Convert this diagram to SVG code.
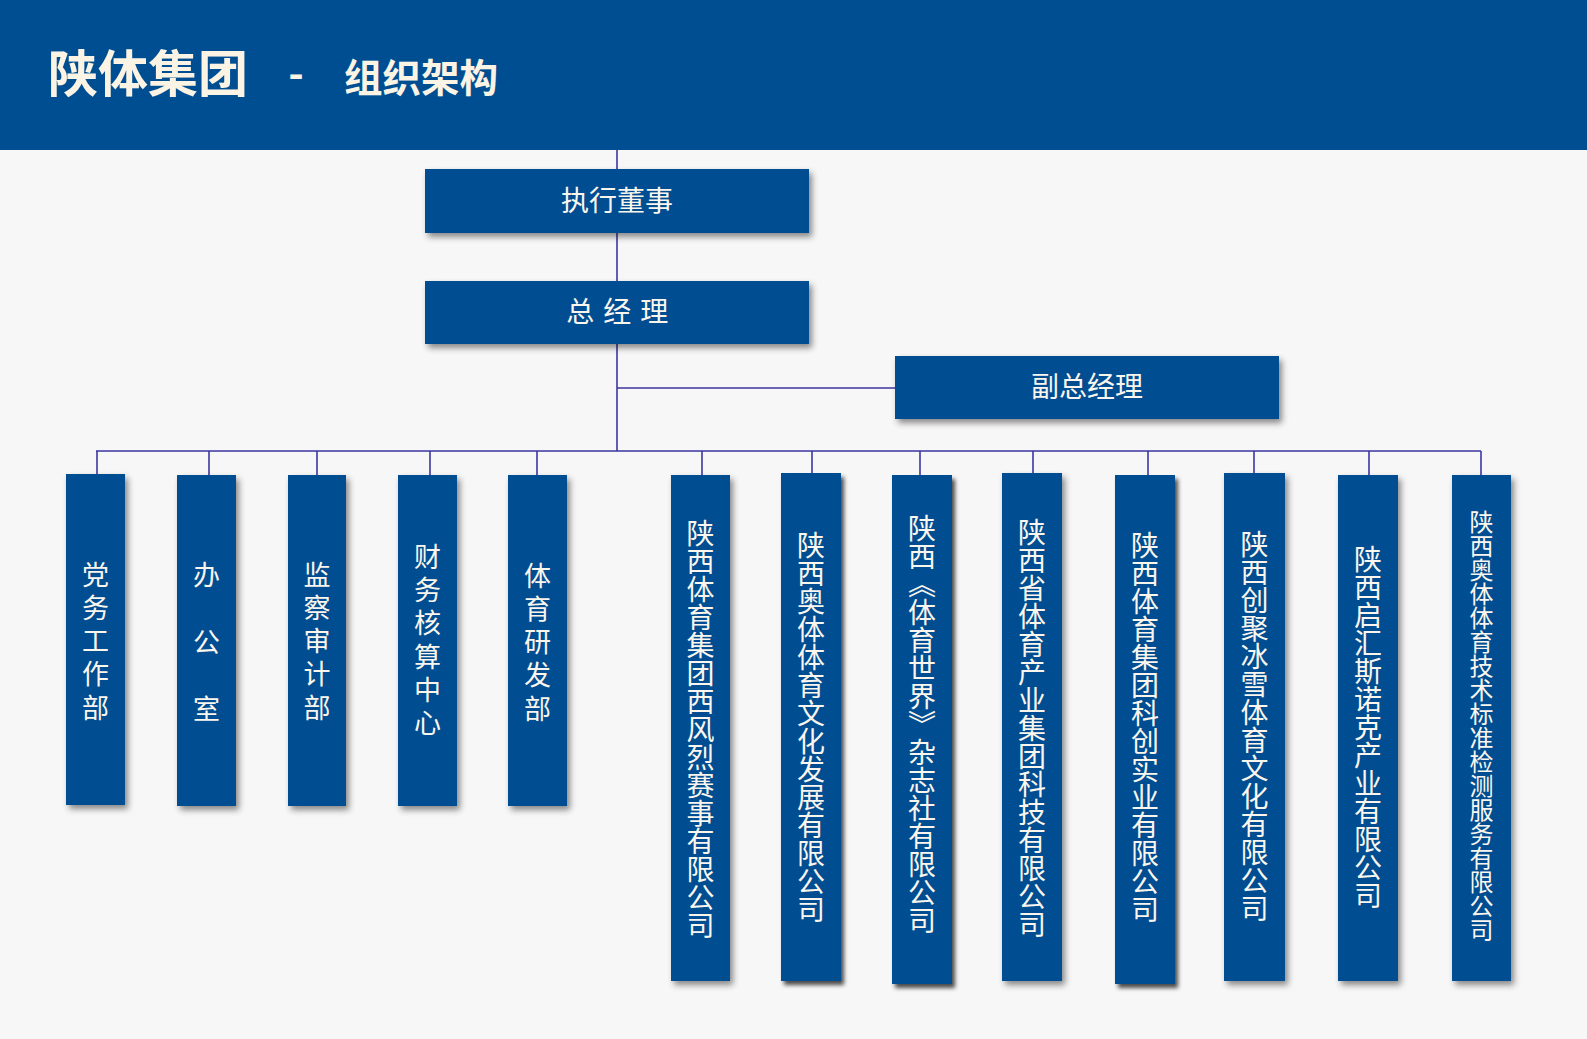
<svg xmlns="http://www.w3.org/2000/svg" width="1587" height="1039" viewBox="0 0 1587 1039">
<defs>
<filter id="sh" x="-30%" y="-10%" width="160%" height="130%">
<feDropShadow dx="3" dy="4" stdDeviation="3" flood-color="#000" flood-opacity="0.45"/>
</filter>
<filter id="sh2" x="-30%" y="-10%" width="160%" height="130%">
<feDropShadow dx="3" dy="4" stdDeviation="2" flood-color="#000" flood-opacity="0.7"/>
</filter>
</defs>
<style>
.bg{fill:#F7F7F7}
.hdr{fill:#004E92}
.box{fill:#014E91;filter:url(#sh)}
.box2{fill:#014E91;filter:url(#sh2)}
.ln{stroke:#3B369F;stroke-width:1.6;fill:none}
.t{font-family:"Noto Sans CJK SC","Noto Sans",sans-serif;fill:#FAF6EE}
.h{font-size:28px;text-anchor:middle}
.title{font-weight:bold;fill:#FBF3E3}
.vt{writing-mode:vertical-rl;text-anchor:middle;font-size:28px}
.vd{writing-mode:vertical-rl;text-anchor:middle;font-size:27px;letter-spacing:6.3px}
</style>
<rect class="bg" x="0" y="0" width="1587" height="1039"/>
<g id="header">
<rect class="hdr" x="0" y="0" width="1587" height="150"/>
<text class="t title" x="48" y="92" style="font-size:50px">陕体集团</text>
<text class="t title" x="296" y="89" style="font-size:42px" text-anchor="middle">-</text>
<text class="t title" x="344" y="92" style="font-size:38.5px">组织架构</text>
</g>
<g id="connectors">
<line class="ln" x1="617" y1="150" x2="617" y2="451"/>
<line class="ln" x1="617" y1="388" x2="895" y2="388"/>
<line class="ln" x1="96" y1="451" x2="1481" y2="451"/>
<line class="ln" x1="97" y1="451" x2="97" y2="474"/>
<line class="ln" x1="209" y1="451" x2="209" y2="475"/>
<line class="ln" x1="317" y1="451" x2="317" y2="475"/>
<line class="ln" x1="430" y1="451" x2="430" y2="475"/>
<line class="ln" x1="537" y1="451" x2="537" y2="475"/>
<line class="ln" x1="702" y1="451" x2="702" y2="475"/>
<line class="ln" x1="812" y1="451" x2="812" y2="473"/>
<line class="ln" x1="920" y1="451" x2="920" y2="475"/>
<line class="ln" x1="1033" y1="451" x2="1033" y2="473"/>
<line class="ln" x1="1148" y1="451" x2="1148" y2="475"/>
<line class="ln" x1="1254" y1="451" x2="1254" y2="473"/>
<line class="ln" x1="1369" y1="451" x2="1369" y2="475"/>
<line class="ln" x1="1481" y1="451" x2="1481" y2="475"/>
</g>
<g id="n-dongshi">
<rect class="box" x="425" y="169" width="384" height="64"/>
<text class="t h" x="617" y="211">执行董事</text>
</g>
<g id="n-zongjingli">
<rect class="box" x="425" y="281" width="384" height="63"/>
<text class="t h" x="618" y="322" letter-spacing="1.4">总 经 理</text>
</g>
<g id="n-fuzong">
<rect class="box" x="895" y="356" width="384" height="63"/>
<text class="t h" x="1087" y="397">副总经理</text>
</g>
<g id="d1">
<rect class="box" x="66" y="474" width="59" height="331"/>
<text class="t vd" x="95.5" y="644">党务工作部</text>
</g>
<g id="d2">
<rect class="box" x="177" y="475" width="59" height="331"/>
<text class="t vd" x="206.5" y="662" style="letter-spacing:40px">办公室</text>
</g>
<g id="d3">
<rect class="box" x="288" y="475" width="58" height="331"/>
<text class="t vd" x="317" y="644">监察审计部</text>
</g>
<g id="d4">
<rect class="box" x="398" y="475" width="59" height="331"/>
<text class="t vd" x="427.5" y="643">财务核算中心</text>
</g>
<g id="d5">
<rect class="box" x="508" y="475" width="59" height="331"/>
<text class="t vd" x="537.5" y="645">体育研发部</text>
</g>
<g id="c1">
<rect class="box" x="671" y="475" width="59" height="506"/>
<text class="t vt" x="700.5" y="729">陕西体育集团西风烈赛事有限公司</text>
</g>
<g id="c2">
<rect class="box2" x="781" y="473" width="60" height="508"/>
<text class="t vt" x="811" y="727">陕西奥体体育文化发展有限公司</text>
</g>
<g id="c3">
<rect class="box2" x="892" y="475" width="60" height="509"/>
<text class="t vt" x="922" y="724">陕西《体育世界》杂志社有限公司</text>
</g>
<g id="c4">
<rect class="box" x="1002" y="473" width="60" height="508"/>
<text class="t vt" x="1032" y="728">陕西省体育产业集团科技有限公司</text>
</g>
<g id="c5">
<rect class="box2" x="1115" y="475" width="60" height="509"/>
<text class="t vt" x="1145" y="727">陕西体育集团科创实业有限公司</text>
</g>
<g id="c6">
<rect class="box" x="1224" y="473" width="61" height="508"/>
<text class="t vt" x="1254.5" y="726">陕西创聚冰雪体育文化有限公司</text>
</g>
<g id="c7">
<rect class="box" x="1338" y="475" width="60" height="506"/>
<text class="t vt" x="1368" y="727">陕西启汇斯诺克产业有限公司</text>
</g>
<g id="c8">
<rect class="box" x="1452" y="475" width="59" height="506"/>
<text class="t vt" x="1481.5" y="726" style="font-size:24px">陕西奥体体育技术标准检测服务有限公司</text>
</g>
</svg>
